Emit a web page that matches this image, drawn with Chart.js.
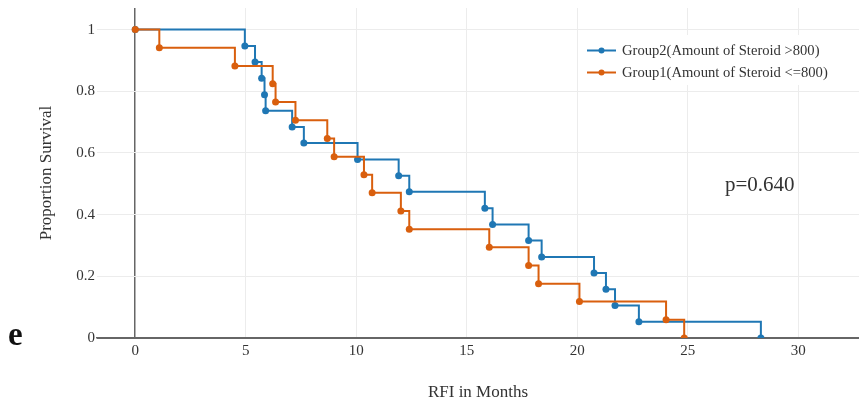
<!DOCTYPE html>
<html>
<head>
<meta charset="utf-8">
<script src="https://cdn.jsdelivr.net/npm/chart.js@4.4.1/dist/chart.umd.min.js"></script>
<style>
  html, body { margin: 0; padding: 0; background: #fff; overflow: hidden; }
  #wrap { position: relative; width: 859px; height: 411px; overflow: hidden; }
</style>
</head>
<body>
<div id="wrap"><canvas id="kmChart" width="863" height="411"></canvas></div>
<script>
// Kaplan-Meier steps (months, survival after the event)
const group2Months   = [0, 4.96, 5.42, 5.72, 5.85, 5.9, 7.1, 7.63, 10.06, 11.92, 12.4, 15.82, 16.17, 17.8, 18.39, 20.76, 21.3, 21.71, 22.79, 28.31];
const group2Survival = [1, 0.947, 0.895, 0.842, 0.789, 0.737, 0.684, 0.632, 0.579, 0.526, 0.474, 0.421, 0.368, 0.316, 0.263, 0.211, 0.158, 0.105, 0.053, 0];
const group1Months   = [0, 1.09, 4.51, 6.22, 6.35, 7.25, 8.69, 9.0, 10.35, 10.72, 12.02, 12.4, 16.02, 17.8, 18.25, 20.1, 24.02, 24.84];
const group1Survival = [1, 0.941, 0.882, 0.824, 0.765, 0.706, 0.647, 0.588, 0.529, 0.471, 0.412, 0.353, 0.294, 0.235, 0.176, 0.118, 0.059, 0];
const group2Label = 'Group2(Amount of Steroid >800)';
const group1Label = 'Group1(Amount of Steroid <=800)';
const xTicks = [0, 5, 10, 15, 20, 25, 30];
const yTicks = [0, 0.2, 0.4, 0.6, 0.8, 1];
const pValueText = 'p=0.640';
const panelLetter = 'e';

const blue = '#1f77b4';
const orange = '#d95f0e';
const serif = '"Liberation Serif", "Times New Roman", serif';
const textColor = '#333';

// legend, p value and panel letter drawn on top of the plot
const extras = {
    id: 'extras',
    afterDraw(chart) {
        const c = chart.ctx;
        c.save();
        c.fillStyle = '#fff';
        c.fillRect(583, 35, 258, 50);
        const rows = [[group2Label, blue, 50.5], [group1Label, orange, 72.5]];
        rows.forEach(([txt, col, y]) => {
            c.strokeStyle = col;
            c.lineWidth = 2;
            c.beginPath(); c.moveTo(587, y); c.lineTo(616, y); c.stroke();
            c.fillStyle = col;
            c.beginPath(); c.arc(601.5, y, 3, 0, Math.PI * 2); c.fill();
            c.fillStyle = textColor;
            c.font = '14.6px ' + serif;
            c.textBaseline = 'middle';
            c.fillText(txt, 622, y + 1);
        });
        c.textBaseline = 'alphabetic';
        c.fillStyle = textColor;
        c.font = '21px ' + serif;
        c.fillText(pValueText, 725, 191);
        c.fillStyle = '#111';
        c.font = 'bold 33px ' + serif;
        c.fillText(panelLetter, 8, 345);
        c.restore();
    }
};

const kmCtx = document.getElementById('kmChart').getContext('2d');
const kmChart = new Chart(kmCtx, {
    type: 'line',
    data: {
        datasets: [
            { label: group2Label, data: group2Months.map((m, i) => ({ x: m, y: group2Survival[i] })), borderColor: blue, backgroundColor: blue, borderWidth: 2, pointRadius: 3.5, pointBorderWidth: 0, pointBackgroundColor: blue, stepped: 'before', fill: false, order: 1 },
            { label: group1Label, data: group1Months.map((m, i) => ({ x: m, y: group1Survival[i] })), borderColor: orange, backgroundColor: orange, borderWidth: 2, pointRadius: 3.5, pointBorderWidth: 0, pointBackgroundColor: orange, stepped: 'before', fill: false, order: 0 }
        ]
    },
    options: {
        responsive: false,
        animation: false,
        layout: { padding: { top: 8, right: 0, bottom: 0, left: 0 } },
        plugins: { legend: { display: false }, tooltip: { enabled: false } },
        scales: {
            x: {
                type: 'linear', min: -1.73, max: 32.75,
                afterBuildTicks: s => { s.ticks = xTicks.map(v => ({ value: v })); },
                afterFit: s => { s.height = 73; s.paddingLeft = 0; s.paddingRight = 0; },
                grid: { color: c => c.tick && c.tick.value === 0 ? '#666' : '#ececec', lineWidth: c => c.tick && c.tick.value === 0 ? 1.5 : 1, drawTicks: false },
                border: { display: true, color: '#666', width: 1.5 },
                ticks: { font: { family: serif, size: 15 }, color: textColor, padding: 4, maxRotation: 0, callback: v => String(v) },
                title: { display: true, text: 'RFI in Months', font: { family: serif, size: 17 }, color: textColor, padding: { top: 0, bottom: 8 } }
            },
            y: {
                min: 0, max: 1.07,
                afterBuildTicks: s => { s.ticks = yTicks.map(v => ({ value: v })); },
                afterFit: s => { s.width = 97; s.paddingTop = 0; s.paddingBottom = 0; },
                grid: { color: c => c.tick && c.tick.value === 0 ? '#666' : '#ececec', drawTicks: false },
                border: { display: false },
                ticks: { font: { family: serif, size: 15 }, color: textColor, padding: 2, callback: v => String(Math.round(v * 10) / 10) },
                title: { display: true, text: 'Proportion Survival', font: { family: serif, size: 17 }, color: textColor, padding: { top: 36, bottom: 0 } }
            }
        }
    },
    plugins: [extras]
});
</script>
</body>
</html>
